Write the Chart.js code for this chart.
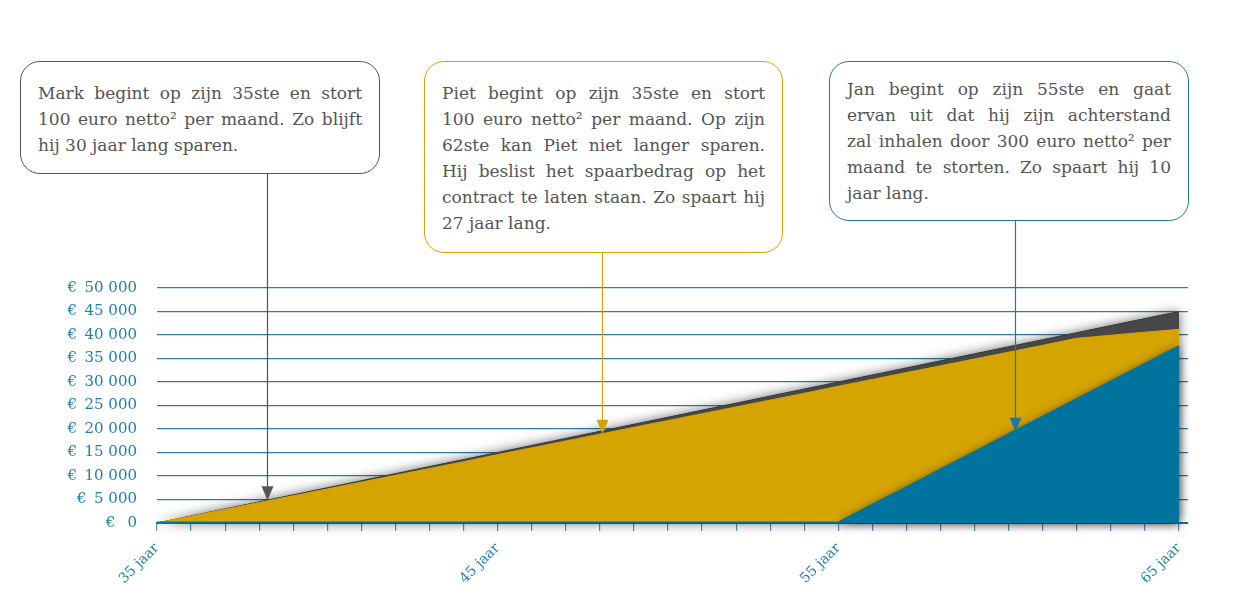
<!DOCTYPE html>
<html>
<head>
<meta charset="utf-8">
<script src="https://cdn.jsdelivr.net/npm/chart.js@4"></script>
<style>
  body { margin: 0; background: #fff; }
  #wrap { position: relative; width: 1235px; height: 616px; }
  #chart { position: absolute; left: 0; top: 0; }
  .box {
    position: absolute; box-sizing: border-box;
    border: 1.3px solid #555; border-radius: 20px; background: #fff;
    padding: 0 17px; font-family: "DejaVu Serif", serif; font-size: 17px;
    line-height: 26px; color: #555;
  }
  .box div { text-align: justify; text-align-last: justify; white-space: nowrap; }
  .box div.last { text-align-last: left; }
</style>
</head>
<body>
<div id="wrap">
  <canvas id="chart" width="1235" height="616"></canvas>
</div>
<script>
// leeftijden en opgebouwd kapitaal (euro)
const ages = [35,36,37,38,39,40,41,42,43,44,45,46,47,48,49,50,51,52,53,54,55,56,57,58,59,60,61,62,63,64,65];
const mark = [0,1500,3000,4500,6000,7500,9000,10500,12000,13500,15000,16500,18000,19500,21000,22500,24000,25500,27000,28500,30000,31500,33000,34500,36000,37500,39000,40500,42000,43500,45000];
const piet = [0,1450,2900,4350,5800,7250,8700,10150,11600,13050,14550,16000,17450,18900,20350,21800,23250,24700,26150,27600,29100,30550,32000,33450,34900,36350,37800,39300,39950,40600,41200];
const jan  = [0,0,0,0,0,0,0,0,0,0,0,0,0,0,0,0,0,0,0,0,0,3750,7500,11250,15000,18750,22500,26250,30000,33750,37500];
const xLabelAges = [35,45,55,65];
const yTicks = [0,5000,10000,15000,20000,25000,30000,35000,40000,45000,50000];

// tekstballonnen: welke reeks, op welke leeftijd de pijl wijst
const boxes = [
  { series: 0, age: 38.22, color: '#555555', left: 20, top: 61, width: 360, height: 113, pad: 18,
    lines: ['Mark begint op zijn 35ste en stort', '100 euro netto² per maand. Zo blijft', 'hij 30 jaar lang sparen.'] },
  { series: 1, age: 48.06, color: '#d4a300', left: 424, top: 61, width: 359, height: 192, pad: 18,
    lines: ['Piet begint op zijn 35ste en stort', '100 euro netto² per maand. Op zijn', '62ste kan Piet niet langer sparen.', 'Hij beslist het spaarbedrag op het', 'contract te laten staan. Zo spaart hij', '27 jaar lang.'] },
  { series: 2, age: 60.18, color: '#1f78a4', left: 829, top: 61, width: 360, height: 160, pad: 14,
    lines: ['Jan begint op zijn 55ste en gaat', 'ervan uit dat hij zijn achterstand', 'zal inhalen door 300 euro netto² per', 'maand te storten. Zo spaart hij 10', 'jaar lang.'] }
];

const wrap = document.getElementById('wrap');
boxes.forEach(b => {
  const el = document.createElement('div');
  el.className = 'box';
  el.style.left = b.left + 'px'; el.style.top = b.top + 'px';
  el.style.width = b.width + 'px'; el.style.height = b.height + 'px';
  el.style.borderColor = b.color; el.style.paddingTop = b.pad + 'px';
  b.lines.forEach((t, i) => {
    const d = document.createElement('div');
    d.textContent = t;
    if (i === b.lines.length - 1) d.className = 'last';
    el.appendChild(d);
  });
  wrap.appendChild(el);
});

const pts = arr => ages.map((a, i) => ({ x: a, y: arr[i] }));
const valueAt = (arr, age) => {
  const i = Math.min(Math.floor(age - ages[0]), ages.length - 2);
  const f = age - ages[i];
  return arr[i] + (arr[i + 1] - arr[i]) * f;
};
const seriesArr = [mark, piet, jan];

function areaPath(ctx, d, bottom) {
  ctx.beginPath();
  ctx.moveTo(d[0].x, bottom);
  d.forEach(p => ctx.lineTo(p.x, p.y));
  ctx.lineTo(d[d.length - 1].x, bottom);
  ctx.closePath();
}

// schaduw onder de vlakken
const shadows = {
  id: 'shadows',
  beforeDatasetsDraw(chart) {
    const ctx = chart.ctx, bottom = chart.scales.y.getPixelForValue(0);
    ctx.save();
    ctx.shadowColor = 'rgba(0,0,0,0.6)';
    ctx.shadowBlur = 12;
    ctx.fillStyle = '#444';
    areaPath(ctx, chart.getDatasetMeta(0).data, bottom);
    ctx.fill();
    ctx.restore();
  },
  afterDatasetDraw(chart, args) {
    if (args.index !== 1) return;
    const ctx = chart.ctx, bottom = chart.scales.y.getPixelForValue(0);
    const d = chart.getDatasetMeta(2).data.filter((p, i) => i >= 20);
    ctx.save();
    ctx.shadowColor = 'rgba(0,0,0,0.55)';
    ctx.shadowBlur = 10;
    ctx.fillStyle = '#00739f';
    areaPath(ctx, d, bottom);
    ctx.fill();
    ctx.restore();
  }
};

const arrows = {
  id: 'arrows',
  afterDraw(chart) {
    const ctx = chart.ctx, x = chart.scales.x, y = chart.scales.y;
    boxes.forEach(b => {
      const px = Math.round(x.getPixelForValue(b.age)) + 0.5;
      const py = y.getPixelForValue(valueAt(seriesArr[b.series], b.age));
      const top = b.top + b.height;
      ctx.save();
      ctx.strokeStyle = b.color; ctx.fillStyle = b.color; ctx.lineWidth = 1.2;
      ctx.beginPath(); ctx.moveTo(px, top); ctx.lineTo(px, py - 12); ctx.stroke();
      ctx.beginPath(); ctx.moveTo(px - 6, py - 14); ctx.lineTo(px + 6, py - 14); ctx.lineTo(px, py); ctx.closePath(); ctx.fill();
      ctx.restore();
    });
  }
};

const blue = '#1e7fab';
let ctx = document.getElementById('chart').getContext('2d');
let config = {
  type: 'line',
  data: {
    datasets: [
      { label: 'Mark', data: pts(mark), order: 3, fill: 'origin', backgroundColor: '#474747', borderColor: '#3a3a3a', borderWidth: 1, pointRadius: 0, tension: 0 },
      { label: 'Piet', data: pts(piet), order: 2, fill: 'origin', backgroundColor: '#d6a400', borderColor: '#d6a400', borderWidth: 1, pointRadius: 0, tension: 0 },
      { label: 'Jan', data: pts(jan), order: 1, fill: 'origin', backgroundColor: '#00739f', borderColor: '#00739f', borderWidth: 3, pointRadius: 0, tension: 0 }
    ]
  },
  options: {
    responsive: false,
    animation: false,
    layout: { padding: { left: 0, right: 47, top: 288, bottom: 0 } },
    scales: {
      x: {
        type: 'linear', min: 35, max: 65.264,
        afterBuildTicks: scale => { scale.ticks = ages.map(a => ({ value: a })); },
        afterFit: scale => { scale.height = 93; },
        grid: { drawOnChartArea: false, drawTicks: true, tickLength: 8, color: '#4b94b8', lineWidth: 1.2 },
        border: { display: true, color: '#1a75a0', width: 2 },
        ticks: {
          autoSkip: false, minRotation: 45, maxRotation: 45, padding: 9, color: blue,
          font: { family: 'DejaVu Serif', size: 14 },
          callback: v => xLabelAges.includes(v) ? v + ' jaar' : ''
        }
      },
      y: {
        min: 0, max: 50000,
        afterBuildTicks: scale => { scale.ticks = yTicks.map(v => ({ value: v })); },
        afterFit: scale => { scale.width = 157; },
        grid: { drawTicks: false, color: '#2a7fa8', lineWidth: 1.2 },
        border: { display: false },
        ticks: {
          padding: 20, color: blue,
          font: { family: 'DejaVu Serif', size: 15 },
          callback: v => v === 0 ? '€\u2002 0' : '€\u2002' + (v / 1000) + ' 000'
        }
      }
    },
    plugins: {
      legend: { display: false },
      tooltip: { enabled: false }
    }
  },
  plugins: [shadows, arrows]
};
let chart = new Chart(ctx, config);
</script>
</body>
</html>
